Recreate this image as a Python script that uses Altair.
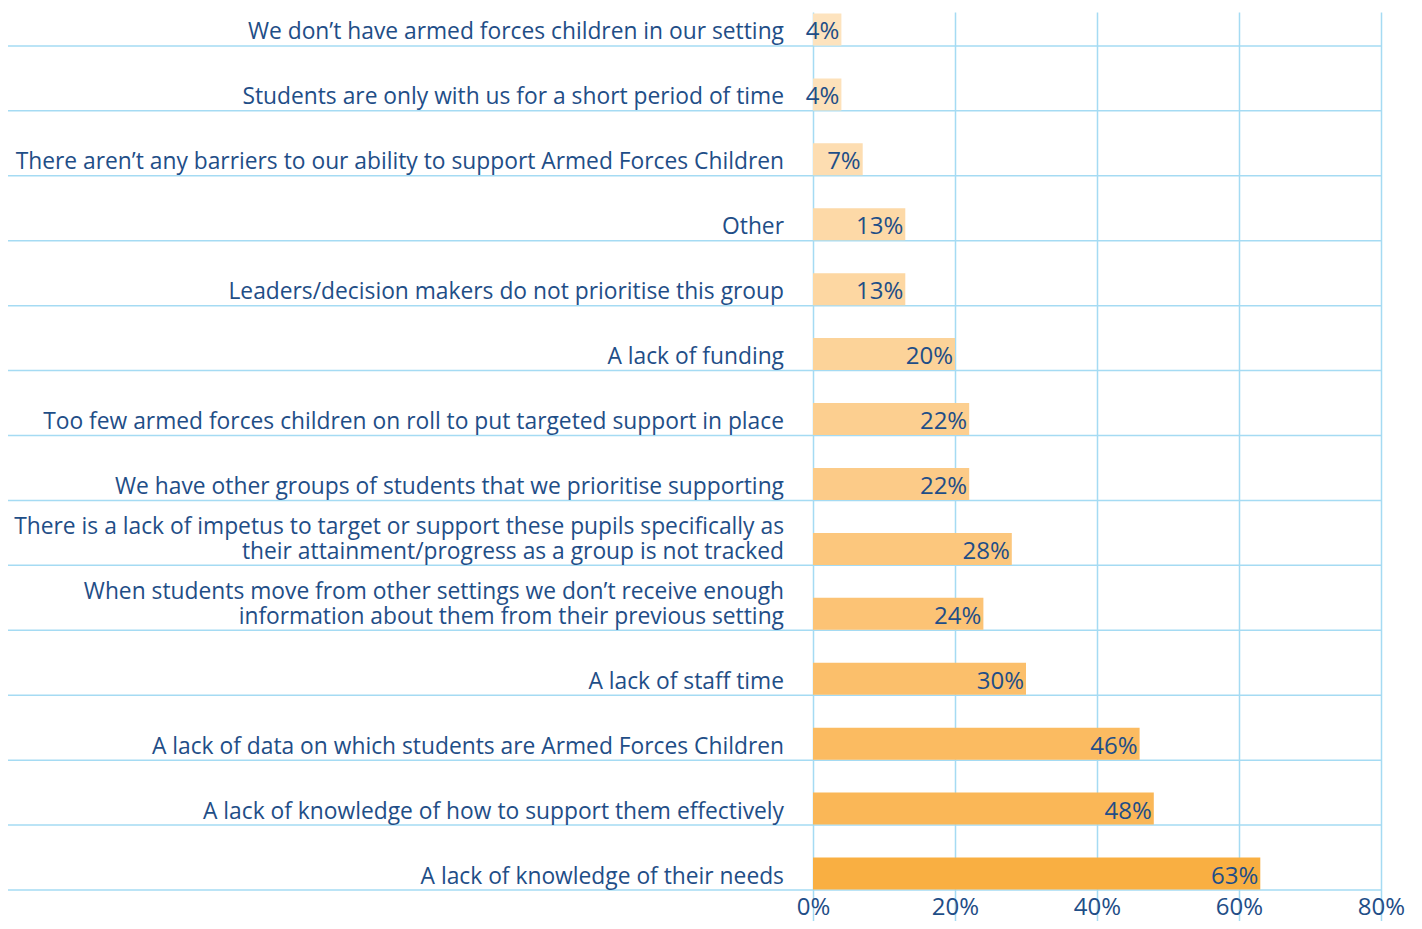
import altair as alt
import pandas as pd

categories = [
    "We don\u2019t have armed forces children in our setting",
    "Students are only with us for a short period of time",
    "There aren\u2019t any barriers to our ability to support Armed Forces Children",
    "Other",
    "Leaders/decision makers do not prioritise this group",
    "A lack of funding",
    "Too few armed forces children on roll to put targeted support in place",
    "We have other groups of students that we prioritise supporting",
    "There is a lack of impetus to target or support these pupils specifically as\ntheir attainment/progress as a group is not tracked",
    "When students move from other settings we don\u2019t receive enough\ninformation about them from their previous setting",
    "A lack of staff time",
    "A lack of data on which students are Armed Forces Children",
    "A lack of knowledge of how to support them effectively",
    "A lack of knowledge of their needs",
]
values = [4, 4, 7, 13, 13, 20, 22, 22, 28, 24, 30, 46, 48, 63]
bar_colors = [
    "#FDE3BE", "#FDE1BA", "#FDDDB1", "#FDD9A7", "#FDD7A2", "#FCD399", "#FCCF90",
    "#FCCB88", "#FCC77D", "#FCC375", "#FBBF6B", "#FBBB61", "#FAB757", "#F9AF42",
]
x_ticks = [0, 20, 40, 60, 80]

df = pd.DataFrame({"category": categories, "value": values, "color": bar_colors})
df["label"] = df["value"].astype(str) + "%"
df["last_line"] = df["category"].str.split("\n").str[-1]
df["upper_line"] = df["category"].apply(lambda s: s.split("\n")[0] if "\n" in s else "")

TEXT = "#1F4E87"
GRID = "#A5DBF3"
FONT = "Open Sans"
FS = 22.8
FS_VAL = 24

yscale = alt.Scale(domain=categories, range=[-31, 878], paddingInner=0, paddingOuter=0)
y_enc = alt.Y("category:N", scale=yscale, axis=None)
x_enc = alt.X(
    "value:Q",
    scale=alt.Scale(domain=[0, 80], nice=False),
    axis=alt.Axis(
        values=x_ticks, labelExpr="datum.value + '%'", grid=True, gridColor=GRID,
        gridWidth=1.5, domain=False, ticks=False, labelPadding=24,
        labelBaseline="alphabetic", labelFontSize=FS_VAL,
        labelColor=TEXT, labelFont=FONT, title=None, labelFlush=False,
    ),
)

base = alt.Chart(df)

rules = base.mark_rule(color=GRID, strokeWidth=1.5).encode(
    y=alt.Y("category:N", scale=yscale, axis=None, bandPosition=1),
    x=alt.value(-805),
    x2=alt.value(568),
)

bars = base.mark_bar(height=32, yOffset=16).encode(
    x=x_enc, y=y_enc, color=alt.Color("color:N", scale=None)
)

value_text = base.mark_text(
    align="right", baseline="bottom", dx=-2, yOffset=31, fontSize=FS_VAL, font=FONT, color=TEXT
).encode(x=x_enc, y=y_enc, text="label:N")

cat_last = base.mark_text(
    align="right", baseline="bottom", yOffset=31, fontSize=FS, font=FONT, color=TEXT,
).encode(x=alt.value(-29), y=y_enc, text="last_line:N")

cat_upper = base.mark_text(
    align="right", baseline="bottom", yOffset=6, fontSize=FS, font=FONT, color=TEXT,
).encode(x=alt.value(-29), y=y_enc, text="upper_line:N")

chart = alt.layer(rules, bars, value_text, cat_last, cat_upper).properties(
    width=568,
    height=878,
    padding={"left": 805, "top": 4, "right": 30, "bottom": 31},
    autosize=alt.AutoSizeParams(type="none"),
    background="white",
).configure_view(stroke=None)

chart.save("out.html", embed_options={"renderer": "svg", "actions": False})
